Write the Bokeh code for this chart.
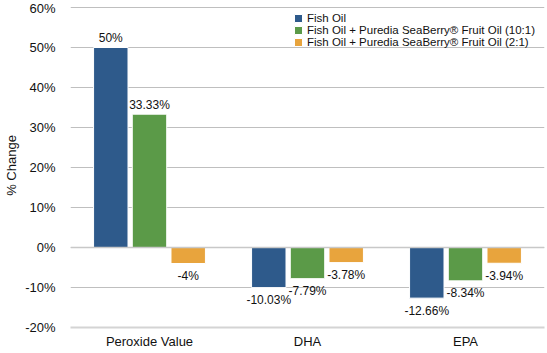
from bokeh.plotting import figure
from bokeh.models import (ColumnDataSource, FactorRange, FixedTicker, PrintfTickFormatter,
                          Legend, LegendItem, LabelSet, Span)
from bokeh.transform import dodge
from bokeh.core.properties import value
from bokeh.embed import file_html
from bokeh.resources import INLINE

categories = ["Peroxide Value", "DHA", "EPA"]
series_names = ["Fish Oil",
                "Fish Oil + Puredia SeaBerry\u00ae Fruit Oil (10:1)",
                "Fish Oil + Puredia SeaBerry\u00ae Fruit Oil (2:1)"]
fish_oil = [50.0, -10.03, -12.66]
fish_10_1 = [33.33, -7.79, -8.34]
fish_2_1 = [-4.0, -3.78, -3.94]
label_fish_oil = ["50%", "-10.03%", "-12.66%"]
label_10_1 = ["33.33%", "-7.79%", "-8.34%"]
label_2_1 = ["-4%", "-3.78%", "-3.94%"]
y_ticks = [-20, -10, 0, 10, 20, 30, 40, 50, 60]

colors = ["#2E5A8B", "#5B9A48", "#E8A43D"]
FONT = "Liberation Sans"

p = figure(x_range=FactorRange(*categories, range_padding=0), y_range=(-20, 61),
           width=547, height=353, output_backend="svg", toolbar_location=None,
           min_border_left=70, min_border_right=3, min_border_top=3, min_border_bottom=26)

p.outline_line_color = None
p.background_fill_color = "white"
p.border_fill_color = "white"

p.xgrid.grid_line_color = None
p.ygrid.grid_line_color = "#BFBFBF"
p.ygrid.grid_line_width = 1
p.ygrid.ticker = FixedTicker(ticks=y_ticks)

p.yaxis.ticker = FixedTicker(ticks=y_ticks)
p.yaxis.formatter = PrintfTickFormatter(format="%d%%")
p.yaxis.axis_line_color = None
p.yaxis.major_tick_line_color = None
p.yaxis.minor_tick_line_color = None
p.yaxis.major_tick_out = 0
p.yaxis.major_tick_in = 0
p.yaxis.minor_tick_out = 0
p.yaxis.major_label_standoff = 15
p.yaxis.major_label_text_font = FONT
p.yaxis.major_label_text_font_size = "13px"
p.yaxis.major_label_text_color = "#111111"
p.yaxis.axis_label = "% Change"
p.yaxis.axis_label_text_font = FONT
p.yaxis.axis_label_text_font_size = "13px"
p.yaxis.axis_label_text_font_style = "normal"
p.yaxis.axis_label_text_color = "#111111"
p.yaxis.axis_label_standoff = 3

p.xaxis.axis_line_color = "#D4D4D4"
p.xaxis.axis_line_width = 2
p.xaxis.major_tick_line_color = None
p.xaxis.minor_tick_line_color = None
p.xaxis.major_tick_out = 0
p.xaxis.major_tick_in = 0
p.xaxis.minor_tick_out = 0
p.xaxis.major_label_standoff = 6
p.xaxis.major_label_text_font = FONT
p.xaxis.major_label_text_font_size = "13px"
p.xaxis.major_label_text_color = "#111111"

bar_w = 0.218
step = 0.245
offsets = [-step, 0.0, step]
values = [fish_oil, fish_10_1, fish_2_1]
labels = [label_fish_oil, label_10_1, label_2_1]

items = []
for vals, labs, off, col, name in zip(values, labels, offsets, colors, series_names):
    src = ColumnDataSource(dict(cat=categories, val=vals))
    r = p.vbar(x=dodge("cat", off, range=p.x_range), top="val", bottom=0, width=bar_w,
               source=src, fill_color=col, line_color="white", line_width=1)
    items.append(LegendItem(label=name, renderers=[r]))

    pos = ColumnDataSource(dict(cat=[c for c, v in zip(categories, vals) if v >= 0],
                                val=[v for v in vals if v >= 0],
                                txt=[t for t, v in zip(labs, vals) if v >= 0]))
    neg = ColumnDataSource(dict(cat=[c for c, v in zip(categories, vals) if v < 0],
                                val=[v for v in vals if v < 0],
                                txt=[t for t, v in zip(labs, vals) if v < 0]))
    for s, yo in ((pos, 9.5), (neg, -12.5)):
        p.add_layout(LabelSet(x=dodge("cat", off, range=p.x_range), y="val", text="txt",
                              source=s, y_offset=yo, text_align="center",
                              text_baseline="middle", text_font=value(FONT),
                              text_font_size="12px", text_color="#111111"))

p.add_layout(Span(location=0, dimension="width", line_color="#C8C8C8", line_width=1.5))

legend = Legend(items=items, location=(223, 279), orientation="vertical",
                padding=0, margin=0, spacing=-2, glyph_width=10, glyph_height=10,
                label_height=10, label_standoff=4, border_line_alpha=0,
                background_fill_alpha=0, label_text_font=FONT,
                label_text_font_size="11.5px", label_text_color="#111111")
p.add_layout(legend, "center")

open("out.html", "w").write(file_html(p, INLINE))
